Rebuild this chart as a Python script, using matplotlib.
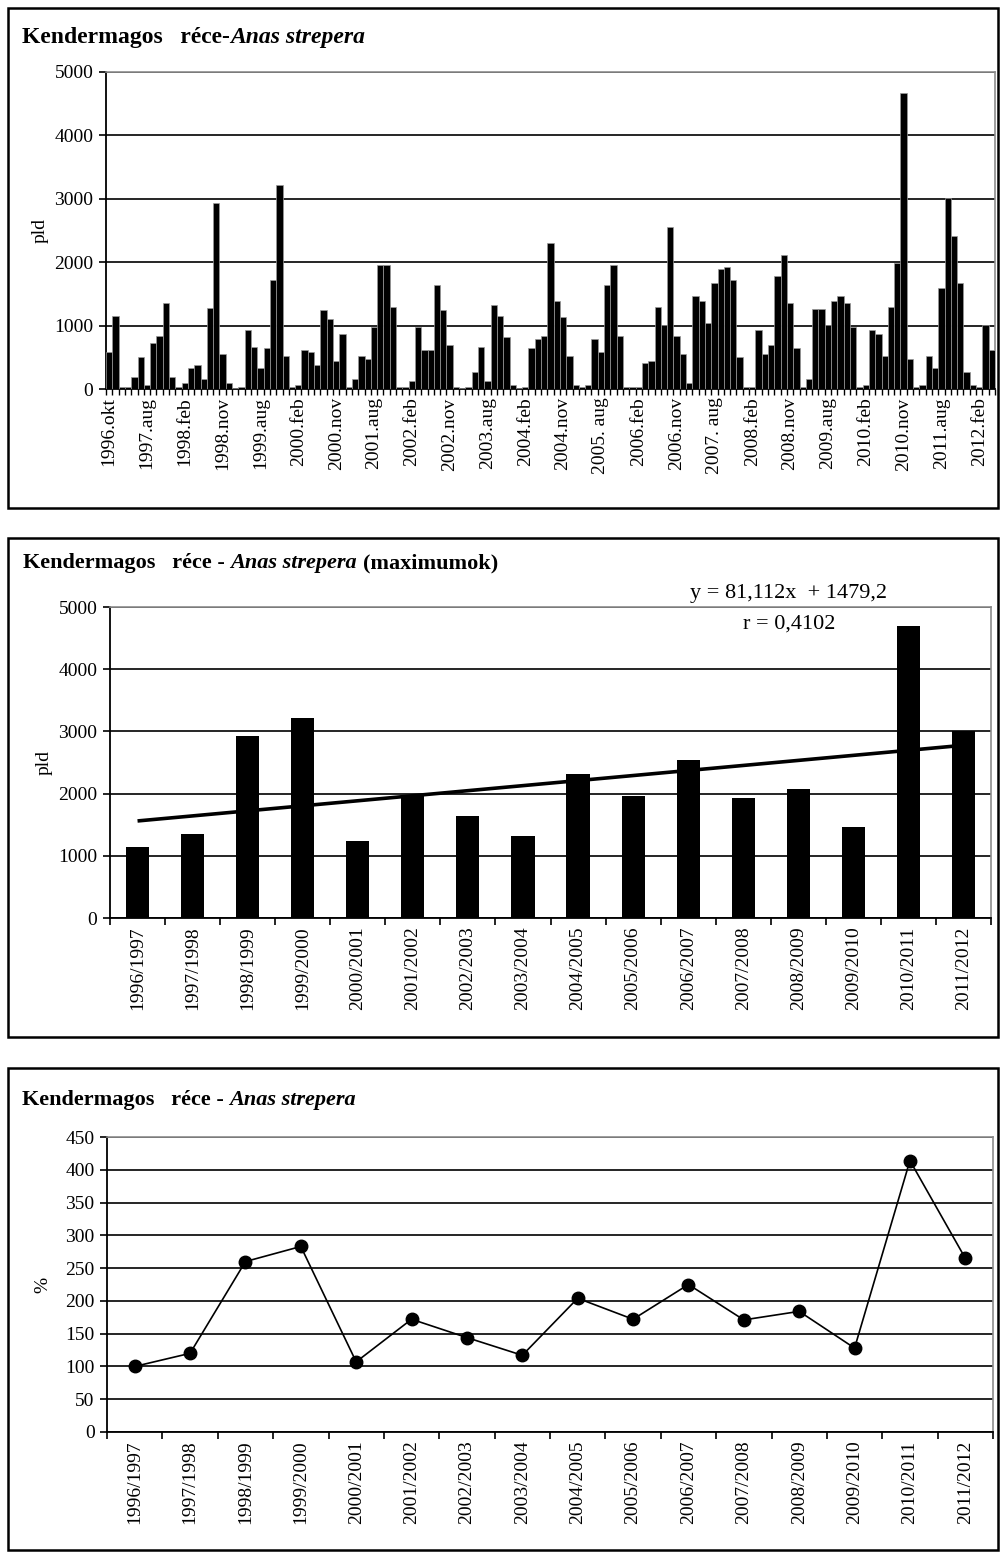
import matplotlib
matplotlib.use("Agg")
import matplotlib.pyplot as plt
from matplotlib.patches import Rectangle
from matplotlib.ticker import FixedLocator
import numpy as np

plt.rcParams['font.family'] = ['Liberation Serif', 'DejaVu Serif']

# ---------------- data ----------------
monthly_counts = [
    582, 1154, 36, 36, 182, 504, 68, 728, 842, 1357,
    182, 36, 94, 328, 380, 156, 1274, 2928, 556, 94,
    10, 36, 926, 666, 328, 640, 1726, 3214, 525, 36,
    68, 608, 582, 380, 1243, 1097, 437, 868, 36, 156,
    525, 468, 983, 1960, 1960, 1295, 36, 36, 125, 983,
    608, 608, 1638, 1243, 697, 36, 10, 36, 265, 666,
    125, 1321, 1154, 816, 68, 10, 36, 640, 785, 842,
    2298, 1388, 1128, 525, 68, 36, 68, 785, 582, 1638,
    1960, 842, 36, 36, 36, 411, 437, 1295, 1014, 2558,
    842, 556, 94, 1466, 1388, 1040, 1669, 1898, 1924, 1726,
    504, 36, 36, 926, 556, 697, 1784, 2106, 1352, 640,
    36, 156, 1264, 1264, 1014, 1388, 1466, 1352, 983, 36,
    68, 926, 868, 525, 1295, 1986, 4670, 468, 36, 68,
    525, 328, 1586, 3016, 2418, 1674, 270, 68, 36, 1014,
    608,
]
month_tick_labels = [
    "1996.okt", "1997.aug", "1998.feb", "1998.nov", "1999.aug", "2000.feb",
    "2000.nov", "2001.aug", "2002.feb", "2002.nov", "2003.aug", "2004.feb",
    "2004.nov", "2005. aug", "2006.feb", "2006.nov", "2007. aug", "2008.feb",
    "2008.nov", "2009.aug", "2010.feb", "2010.nov", "2011.aug", "2012.feb",
]
label_step = 6

seasons = [
    "1996/1997", "1997/1998", "1998/1999", "1999/2000", "2000/2001",
    "2001/2002", "2002/2003", "2003/2004", "2004/2005", "2005/2006",
    "2006/2007", "2007/2008", "2008/2009", "2009/2010", "2010/2011",
    "2011/2012",
]
season_max = [1140, 1350, 2930, 3220, 1230, 1970, 1640, 1315, 2310,
              1965, 2545, 1935, 2080, 1465, 4690, 3010]
season_pct = [100, 120, 260, 283, 107, 172, 144, 117, 204, 172, 225,
              171, 184, 128, 414, 265]
trend_slope = 81.112
trend_intercept = 1479.2
r_value = 0.4102

# ---------------- layout helpers ----------------
W, H = 1006, 1564
fig = plt.figure(figsize=(W / 100, H / 100), dpi=100)
renderer = fig.canvas.get_renderer()


def rect(x0, y0, x1, y1):
    return [x0 / W, 1 - y1 / H, (x1 - x0) / W, (y1 - y0) / H]


def panel_box(x0, y0, x1, y1):
    fig.add_artist(Rectangle((x0 / W, 1 - y1 / H), (x1 - x0) / W, (y1 - y0) / H,
                             transform=fig.transFigure, fill=False,
                             lw=1.8, ec='black'))


def mixed_text(x, y, parts):
    cur = x
    for s, style, size, gap in parts:
        t = fig.text(cur / W, 1 - y / H, s, fontsize=size, fontweight='bold',
                     fontstyle=style, va='baseline', ha='left')
        bb = t.get_window_extent(renderer)
        cur += bb.width + gap


def style_axes(ax, ymax, ystep):
    ax.set_ylim(0, ymax)
    ax.set_yticks(np.arange(0, ymax + 1, ystep))
    for s in ['top', 'right']:
        ax.spines[s].set_color('#8c8c8c')
        ax.spines[s].set_linewidth(1.2)
    for s in ['left', 'bottom']:
        ax.spines[s].set_color('black')
        ax.spines[s].set_linewidth(1.3)
    ax.yaxis.grid(True, color='black', lw=1.2)
    ax.set_axisbelow(True)
    ax.tick_params(axis='y', labelsize=14, length=5, width=1.2, pad=4)
    ax.tick_params(axis='x', which='major', length=0, labelsize=14, pad=6)
    ax.tick_params(axis='x', which='minor', length=5, width=1.2)


# ---------------- panel 1: monthly counts ----------------
panel_box(8, 8, 998, 508)
ax1 = fig.add_axes(rect(106, 72, 995, 389))
n = len(monthly_counts)
xm = np.arange(n)
ax1.bar(xm, monthly_counts, width=1.0, color='black', edgecolor='#9a9a9a',
        linewidth=0.5, zorder=3)
ax1.set_xlim(-0.5, n - 0.5)
style_axes(ax1, 5000, 1000)
ax1.set_xticks(np.arange(0, len(month_tick_labels) * label_step, label_step))
ax1.set_xticklabels(month_tick_labels, rotation=90)
ax1.xaxis.set_minor_locator(FixedLocator(np.arange(-0.5, n, 1.0)))
ax1.tick_params(axis='x', which='minor', length=4, width=1.0)
ax1.set_ylabel('pld', fontsize=14, labelpad=4)
mixed_text(22, 43, [("Kendermagos   réce-", 'normal', 17, 0),
                    ("Anas strepera", 'italic', 17, 0)])

# ---------------- panel 2: seasonal maxima ----------------
panel_box(8, 538, 998, 1037)
ax2 = fig.add_axes(rect(110, 607, 991, 918))
xs = np.arange(1, len(seasons) + 1)
ax2.bar(xs, season_max, width=0.42, color='black', zorder=3)
ax2.set_xlim(0.5, len(seasons) + 0.5)
style_axes(ax2, 5000, 1000)
ax2.set_xticks(xs)
ax2.set_xticklabels(seasons, rotation=90)
ax2.xaxis.set_minor_locator(FixedLocator(np.arange(0.5, len(seasons) + 1, 1.0)))
ax2.set_ylabel('pld', fontsize=14, labelpad=4)
trend = trend_slope * xs + trend_intercept
ax2.plot([xs[0], xs[-1]], [trend[0], trend[-1]], color='black', lw=2.6,
         zorder=4, solid_capstyle='butt')
eq = "y = {:.3f}x  + {:.1f}".format(trend_slope, trend_intercept).replace('.', ',')
fig.text(788 / W, 1 - 598 / H, eq, fontsize=16, ha='center', va='baseline')
fig.text(789 / W, 1 - 629 / H, "r = {:.4f}".format(r_value).replace('.', ','),
         fontsize=16, ha='center', va='baseline')
mixed_text(23, 568, [("Kendermagos   réce -", 'normal', 16, 5),
                     ("Anas strepera", 'italic', 16, 6),
                     ("(maximumok)", 'normal', 16, 0)])

# ---------------- panel 3: percentage ----------------
panel_box(8, 1068, 998, 1550)
ax3 = fig.add_axes(rect(107, 1137, 993, 1432))
ax3.plot(xs, season_pct, color='black', lw=1.2, marker='o', markersize=9,
         markerfacecolor='black', markeredgecolor='black', zorder=4)
ax3.set_xlim(0.5, len(seasons) + 0.5)
style_axes(ax3, 450, 50)
ax3.set_xticks(xs)
ax3.set_xticklabels(seasons, rotation=90)
ax3.xaxis.set_minor_locator(FixedLocator(np.arange(0.5, len(seasons) + 1, 1.0)))
ax3.set_ylabel('%', fontsize=14, labelpad=10)
mixed_text(22, 1105, [("Kendermagos   réce -", 'normal', 16, 5),
                      ("Anas strepera", 'italic', 16, 0)])

fig.savefig('out.png', dpi=100)
